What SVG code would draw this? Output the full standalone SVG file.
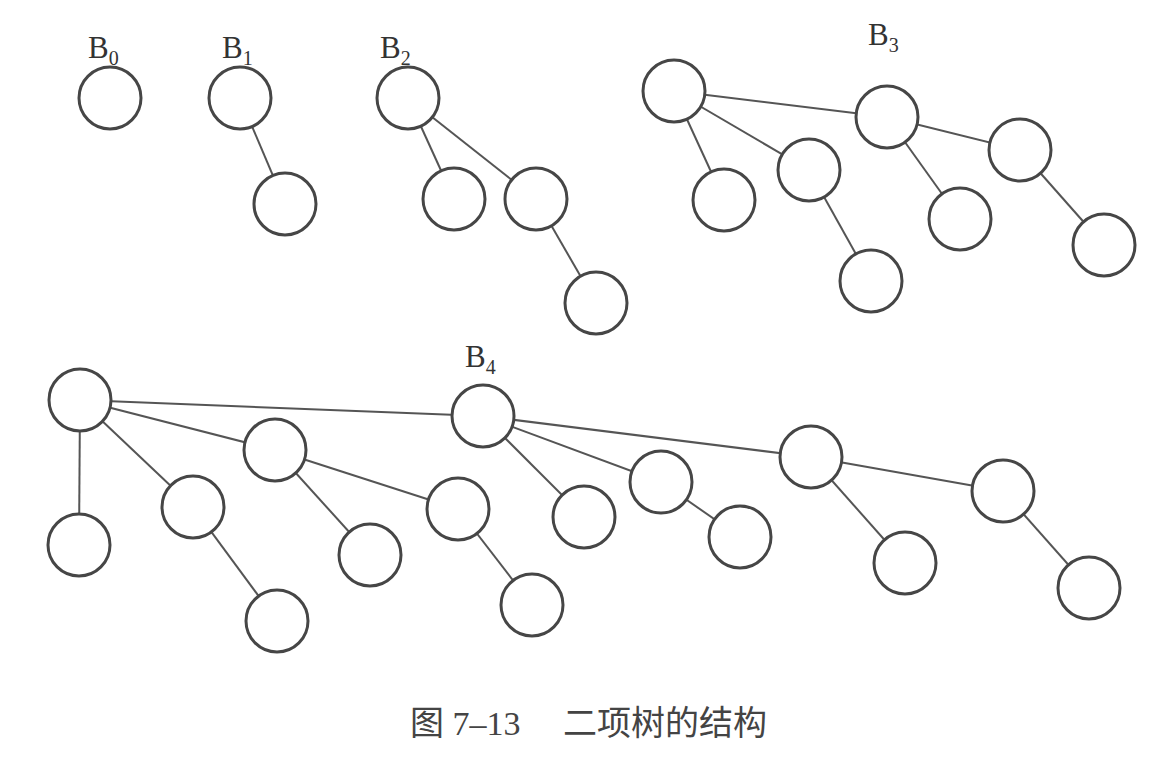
<svg xmlns="http://www.w3.org/2000/svg" width="1170" height="776" viewBox="0 0 1170 776">
<style>
.n{fill:#fff;stroke:#464646;stroke-width:3}
.e{stroke:#555;stroke-width:2;fill:none}
.lb{font-family:"Liberation Serif",serif;font-size:31px;fill:#333}
.sb{font-size:20px}
.cap{font-family:"Liberation Serif","Noto Sans CJK SC",serif;font-size:34px;fill:#444}
</style>
<rect width="1170" height="776" fill="#fff"/>
<g id="labels">
<text class="lb" x="88" y="58">B<tspan class="sb" dy="7">0</tspan></text>
<text class="lb" x="222" y="58">B<tspan class="sb" dy="7">1</tspan></text>
<text class="lb" x="380" y="58">B<tspan class="sb" dy="7">2</tspan></text>
<text class="lb" x="868" y="45">B<tspan class="sb" dy="7">3</tspan></text>
<text class="lb" x="465" y="367">B<tspan class="sb" dy="7">4</tspan></text>
</g>
<g id="connectors">
<line class="e" x1="240" y1="98" x2="285" y2="204"/>
<line class="e" x1="408" y1="98" x2="454" y2="199"/>
<line class="e" x1="408" y1="98" x2="536" y2="199"/>
<line class="e" x1="536" y1="199" x2="596" y2="303"/>
<line class="e" x1="674" y1="91" x2="724" y2="200"/>
<line class="e" x1="674" y1="91" x2="809" y2="170"/>
<line class="e" x1="674" y1="91" x2="887" y2="117"/>
<line class="e" x1="809" y1="170" x2="871" y2="281"/>
<line class="e" x1="887" y1="117" x2="960" y2="219"/>
<line class="e" x1="887" y1="117" x2="1020" y2="150"/>
<line class="e" x1="1020" y1="150" x2="1104" y2="245"/>
<line class="e" x1="80" y1="400" x2="79" y2="545"/>
<line class="e" x1="80" y1="400" x2="193" y2="507"/>
<line class="e" x1="80" y1="400" x2="275" y2="450"/>
<line class="e" x1="80" y1="400" x2="483" y2="416"/>
<line class="e" x1="193" y1="507" x2="277" y2="621"/>
<line class="e" x1="275" y1="450" x2="370" y2="555"/>
<line class="e" x1="275" y1="450" x2="458" y2="509"/>
<line class="e" x1="458" y1="509" x2="532" y2="605"/>
<line class="e" x1="483" y1="416" x2="584" y2="517"/>
<line class="e" x1="483" y1="416" x2="661" y2="482"/>
<line class="e" x1="483" y1="416" x2="811" y2="457"/>
<line class="e" x1="661" y1="482" x2="740" y2="537"/>
<line class="e" x1="811" y1="457" x2="905" y2="563"/>
<line class="e" x1="811" y1="457" x2="1003" y2="491"/>
<line class="e" x1="1003" y1="491" x2="1089" y2="588"/>
</g>
<g id="B0"><circle class="n" cx="110" cy="98" r="31"/></g>
<g id="B1">
<circle class="n" cx="240" cy="98" r="31"/>
<circle class="n" cx="285" cy="204" r="31"/>
</g>
<g id="B2">
<circle class="n" cx="408" cy="98" r="31"/>
<circle class="n" cx="454" cy="199" r="31"/>
<circle class="n" cx="536" cy="199" r="31"/>
<circle class="n" cx="596" cy="303" r="31"/>
</g>
<g id="B3">
<circle class="n" cx="674" cy="91" r="31"/>
<circle class="n" cx="724" cy="200" r="31"/>
<circle class="n" cx="809" cy="170" r="31"/>
<circle class="n" cx="871" cy="281" r="31"/>
<circle class="n" cx="887" cy="117" r="31"/>
<circle class="n" cx="960" cy="219" r="31"/>
<circle class="n" cx="1020" cy="150" r="31"/>
<circle class="n" cx="1104" cy="245" r="31"/>
</g>
<g id="B4">
<circle class="n" cx="80" cy="400" r="31"/>
<circle class="n" cx="79" cy="545" r="31"/>
<circle class="n" cx="193" cy="507" r="31"/>
<circle class="n" cx="277" cy="621" r="31"/>
<circle class="n" cx="275" cy="450" r="31"/>
<circle class="n" cx="370" cy="555" r="31"/>
<circle class="n" cx="458" cy="509" r="31"/>
<circle class="n" cx="532" cy="605" r="31"/>
<circle class="n" cx="483" cy="416" r="31"/>
<circle class="n" cx="584" cy="517" r="31"/>
<circle class="n" cx="661" cy="482" r="31"/>
<circle class="n" cx="740" cy="537" r="31"/>
<circle class="n" cx="811" cy="457" r="31"/>
<circle class="n" cx="905" cy="563" r="31"/>
<circle class="n" cx="1003" cy="491" r="31"/>
<circle class="n" cx="1089" cy="588" r="31"/>
</g>
<g id="caption">
<text class="cap" x="410" y="735">图 7–13</text>
<text class="cap" x="563" y="735">二项树的结构</text>
</g>
</svg>
